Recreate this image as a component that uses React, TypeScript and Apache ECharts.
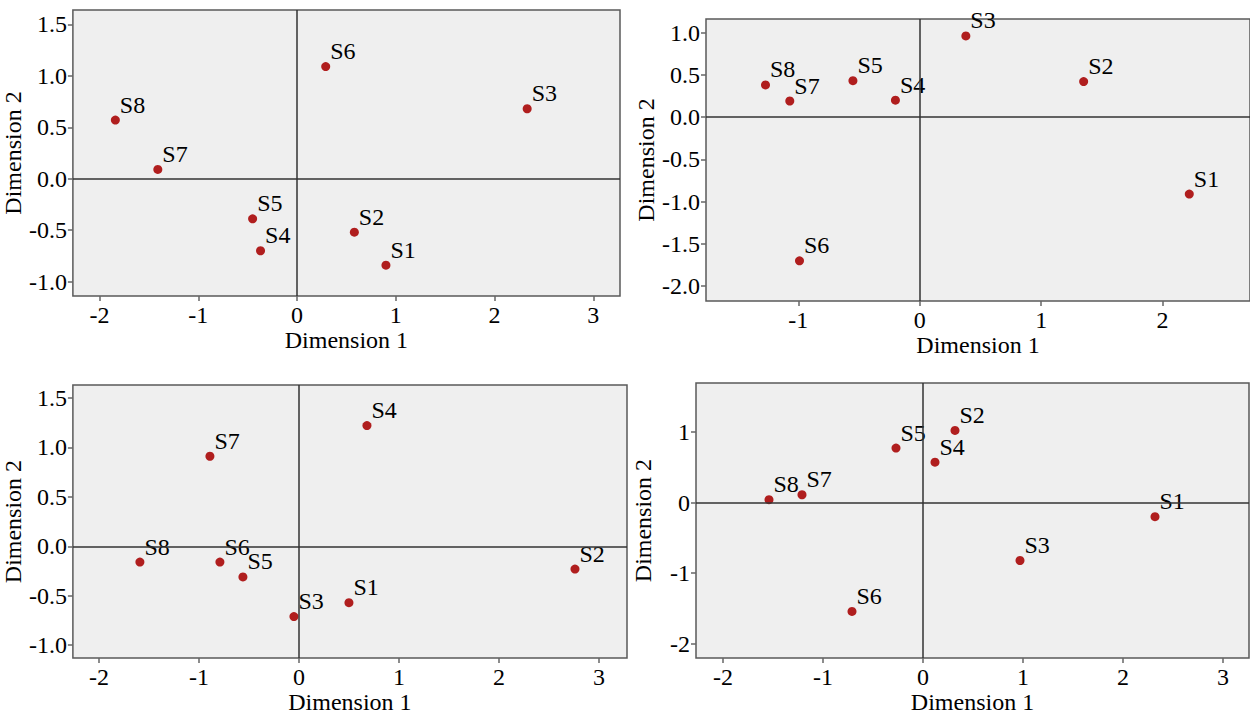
import React, { useEffect, useRef } from "react";
import * as echarts from "echarts";

const labels = ["S1", "S2", "S3", "S4", "S5", "S6", "S7", "S8"];

const p1x = [0.9, 0.58, 2.33, -0.37, -0.45, 0.29, -1.41, -1.84];
const p1y = [-0.84, -0.52, 0.68, -0.7, -0.39, 1.09, 0.09, 0.57];

const p2x = [2.22, 1.35, 0.38, -0.2, -0.55, -0.99, -1.07, -1.27];
const p2y = [-0.91, 0.42, 0.96, 0.2, 0.43, -1.7, 0.19, 0.38];

const p3x = [0.5, 2.76, -0.05, 0.68, -0.56, -0.79, -0.89, -1.59];
const p3y = [-0.57, -0.23, -0.71, 1.22, -0.31, -0.16, 0.91, -0.16];

const p4x = [2.32, 0.32, 0.97, 0.12, -0.27, -0.71, -1.21, -1.54];
const p4y = [-0.2, 1.02, -0.82, 0.57, 0.77, -1.54, 0.11, 0.04];

const xTicksA = [-2, -1, 0, 1, 2, 3];
const xTicksB = [-1, 0, 1, 2];
const yTicksA = [-1, -0.5, 0, 0.5, 1, 1.5];
const yTicksB = [-2, -1.5, -1, -0.5, 0, 0.5, 1];
const yTicksC = [-2, -1, 0, 1];

const xAxisTitle = "Dimension 1";
const yAxisTitle = "Dimension 2";

const FONT = "'Liberation Serif', 'Times New Roman', serif";
const FS = 24;

const panels = [
  { xs: p1x, ys: p1y, xr: [-2.27, 3.27], yr: [-1.14, 1.64], xt: xTicksA, yt: yTicksA, dec: 1,
    grid: { left: 72, top: 10, width: 548, height: 286 } },
  { xs: p2x, ys: p2y, xr: [-1.76, 2.72], yr: [-2.175, 1.16], xt: xTicksB, yt: yTicksB, dec: 1,
    grid: { left: 706, top: 19, width: 548, height: 282 } },
  { xs: p3x, ys: p3y, xr: [-2.26, 3.28], yr: [-1.13, 1.63], xt: xTicksA, yt: yTicksA, dec: 1,
    grid: { left: 72, top: 385, width: 555, height: 282 } },
  { xs: p4x, ys: p4y, xr: [-2.27, 3.26], yr: [-2.2, 1.69], xt: xTicksA, yt: yTicksC, dec: 0,
    grid: { left: 696, top: 383, width: 553, height: 284 } },
];

export default function App() {
  const ref = useRef<HTMLDivElement>(null);
  useEffect(() => {
    if (!ref.current) return;
    const chart = echarts.init(ref.current, null, { renderer: "svg" });
    const grids: any[] = [];
    const xAxes: any[] = [];
    const yAxes: any[] = [];
    const series: any[] = [];
    panels.forEach((p, i) => {
      grids.push({
        ...p.grid,
        show: true,
        backgroundColor: "#efefef",
        borderColor: "#5a5a5a",
        borderWidth: 1.5,
        containLabel: false,
      });
      xAxes.push({
        type: "value",
        gridIndex: i,
        min: p.xr[0],
        max: p.xr[1],
        name: xAxisTitle,
        nameLocation: "middle",
        nameGap: 31,
        nameTextStyle: { fontFamily: FONT, fontSize: FS, color: "#000" },
        axisLine: { show: false, onZero: false },
        splitLine: { show: false },
        axisTick: { show: true, length: 5, customValues: p.xt, lineStyle: { color: "#666", width: 1.5 } },
        axisLabel: {
          customValues: p.xt,
          fontFamily: FONT,
          fontSize: FS,
          color: "#000",
          margin: 7,
          formatter: (v: number) => String(v),
        },
      });
      yAxes.push({
        type: "value",
        gridIndex: i,
        min: p.yr[0],
        max: p.yr[1],
        name: yAxisTitle,
        nameLocation: "middle",
        nameRotate: 90,
        nameGap: 41,
        nameTextStyle: { fontFamily: FONT, fontSize: FS, color: "#000" },
        axisLine: { show: false, onZero: false },
        splitLine: { show: false },
        axisTick: { show: true, length: 5, customValues: p.yt, lineStyle: { color: "#666", width: 1.5 } },
        axisLabel: {
          customValues: p.yt,
          fontFamily: FONT,
          fontSize: FS,
          color: "#000",
          margin: 6,
          formatter: (v: number) => v.toFixed(p.dec),
        },
      });
      series.push({
        type: "scatter",
        xAxisIndex: i,
        yAxisIndex: i,
        symbolSize: 9,
        itemStyle: { color: "#b01e1e", opacity: 1 },
        data: labels.map((n, k) => ({ name: n, value: [p.xs[k], p.ys[k]] })),
        label: {
          show: true,
          formatter: "{b}",
          position: [9, 1],
          align: "left",
          verticalAlign: "bottom",
          fontFamily: FONT,
          fontSize: FS,
          color: "#000",
        },
        markLine: {
          silent: true,
          symbol: ["none", "none"],
          label: { show: false },
          lineStyle: { color: "#333", width: 1.5, type: "solid" },
          data: [{ xAxis: 0 }, { yAxis: 0 }],
        },
        z: 3,
      });
    });
    chart.setOption({
      animation: false,
      backgroundColor: "#ffffff",
      grid: grids,
      xAxis: xAxes,
      yAxis: yAxes,
      series,
    });
    return () => chart.dispose();
  }, []);
  return (
    <div
      ref={ref}
      style={{ position: "fixed", left: 0, top: 0, width: 1250, height: 715, background: "#fff" }}
    />
  );
}
